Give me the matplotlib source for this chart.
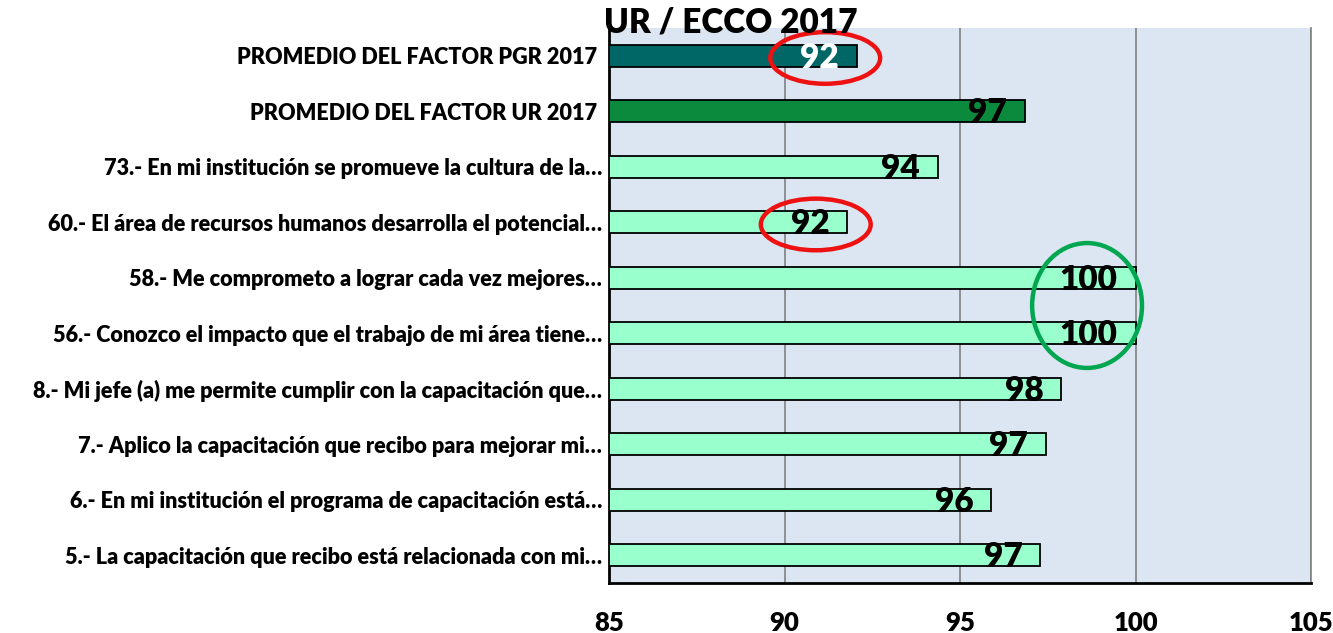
import matplotlib
matplotlib.use("Agg")
import matplotlib.pyplot as plt
from matplotlib.patches import Ellipse

categories = [
    "PROMEDIO DEL FACTOR PGR 2017 ",
    "PROMEDIO DEL FACTOR UR 2017 ",
    "73.- En mi institución se promueve la cultura de la…",
    "60.- El área de recursos humanos desarrolla el potencial…",
    "58.- Me comprometo a lograr cada vez mejores…",
    "56.- Conozco el impacto que el trabajo de mi área tiene…",
    "8.- Mi jefe (a) me permite cumplir con la capacitación que…",
    "7.- Aplico la capacitación que recibo para mejorar mi…",
    "6.- En mi institución el programa de capacitación está…",
    "5.- La capacitación que recibo está relacionada con mi…",
]
values = [92.06, 96.85, 94.37, 91.79, 100.0, 100.0, 97.89, 97.44, 95.89, 97.29]
bar_colors = ["#006666", "#0b8a3e"] + ["#99ffcc"] * 8
label_colors = ["white"] + ["black"] * 9
xticks = [85, 90, 95, 100, 105]
title = "UR / ECCO 2017"

plt.rcParams['font.family'] = ['Lato', 'DejaVu Sans']

W, H = 1333, 633
fig = plt.figure(figsize=(W / 100, H / 100), dpi=100)
ax = fig.add_axes([609 / W, 50 / H, (1311 - 609) / W, (583 - 28) / H])
ax.set_facecolor("#dce6f2")

y = list(range(len(categories)))
ax.barh(y, [v - 85 for v in values], left=85, height=0.4, color=bar_colors,
        edgecolor="black", linewidth=1.3, zorder=3)

ax.set_xlim(85, 105)
ax.set_ylim(len(categories) - 0.5, -0.5)
ax.set_xticks(xticks)
ax.set_xticklabels([str(t) for t in xticks], fontsize=18.5, fontweight="heavy")
ax.set_yticks(y)
ax.set_yticklabels(categories, fontsize=15.6, fontweight="heavy")
ax.tick_params(axis="both", length=0)
ax.tick_params(axis="x", pad=20)
ax.tick_params(axis="y", pad=5)
ax.grid(axis="x", color="#808080", linewidth=1.2, zorder=0)
ax.set_axisbelow(True)

ax.spines["top"].set_visible(False)
ax.spines["right"].set_color("#808080")
ax.spines["right"].set_linewidth(1.2)
ax.spines["left"].set_color("black")
ax.spines["left"].set_linewidth(2)
ax.spines["bottom"].set_color("black")
ax.spines["bottom"].set_linewidth(2)

for yi, v, c in zip(y, values, label_colors):
    ax.annotate(f"{round(v)}", xy=(v, yi), xytext=(-18, -2), textcoords="offset pixels",
                ha="right", va="center", fontsize=24, fontweight="heavy", color=c, zorder=5)

# highlight ellipses
for idx in (0, 3):
    ax.add_patch(Ellipse((values[idx] - 0.9, idx + 0.04), 3.13, 0.93, fill=False,
                         edgecolor="#ee1111", linewidth=3.2, zorder=6, clip_on=False))
ax.add_patch(Ellipse((values[4] - 1.38, (4 + 5) / 2), 3.13, 2.25, fill=False,
                     edgecolor="#00a650", linewidth=3.2, zorder=6, clip_on=False))

fig.text(604 / W, 1 - 23 / H, title, ha="left", va="center", fontsize=24, fontweight="heavy")

fig.savefig("out.png", dpi=100, facecolor="white")
